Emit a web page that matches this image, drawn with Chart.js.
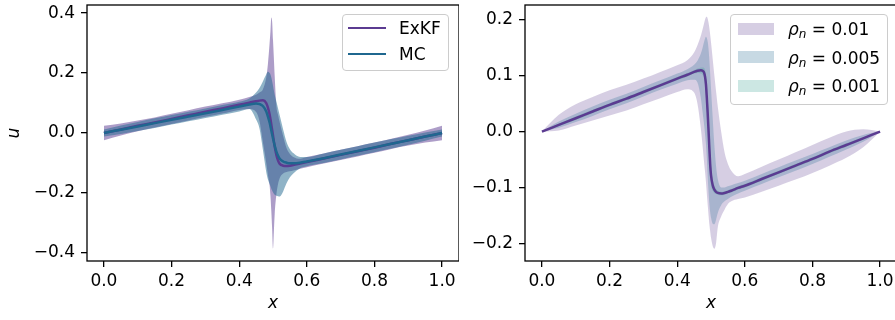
<!DOCTYPE html>
<html>
<head>
<meta charset="utf-8">
<script src="https://cdn.jsdelivr.net/npm/chart.js@4.4.1/dist/chart.umd.min.js"></script>
<style>
    body { margin: 0; background: #fff; font-family: "DejaVu Sans", sans-serif; }
    #wrap { position: relative; width: 895px; height: 320px; overflow: hidden; }
    #wrap canvas { position: absolute; top: 0; }
    #leftChart { left: 0; }
    #rightChart { left: 460px; }
    .legend { position: absolute; box-sizing: border-box; background: rgba(255,255,255,0.8);
              border: 1px solid #cccccc; border-radius: 4px; }
    .legend .label { position: absolute; font-size: 17px; line-height: 20px; color: #000; white-space: nowrap; }
    .legend .swatch { position: absolute; }
    .legend sub { font-size: 12px; vertical-align: -3px; font-style: italic; }
</style>
</head>
<body>
<div id="wrap">
    <canvas id="leftChart" width="459" height="320"></canvas>
    <canvas id="rightChart" width="437" height="320"></canvas>
    <div class="legend" id="legendLeft" style="left:342px; top:14px; width:107px; height:57px;"></div>
    <div class="legend" id="legendRight" style="left:730px; top:14px; width:158px; height:91px;"></div>
</div>
<script>
// ---- left panel: ExKF vs Monte Carlo, mean and spread ----
const xLeft = [0, 0.05, 0.1, 0.15, 0.2, 0.25, 0.3, 0.35, 0.4,
    0.43, 0.45, 0.46, 0.47, 0.48,
    0.485, 0.49, 0.4925, 0.495, 0.4975, 0.5, 0.5025, 0.505,
    0.51, 0.515, 0.52, 0.53, 0.54, 0.55, 0.56, 0.58, 0.6,
    0.65, 0.7, 0.75, 0.8, 0.85, 0.9, 0.95, 1.0];

const exkfMean = [0, 0.012, 0.024, 0.035, 0.047, 0.059, 0.071, 0.082, 0.094,
    0.101, 0.106, 0.108, 0.109, 0.100,
    0.085, 0.062, 0.046, 0.028, 0.010, -0.008, -0.027, -0.045,
    -0.073, -0.092, -0.103, -0.109, -0.110, -0.109, -0.107, -0.102, -0.097,
    -0.085, -0.073, -0.061, -0.049, -0.036, -0.024, -0.012, 0];

const mcMean = [0, 0.011, 0.022, 0.033, 0.044, 0.055, 0.066, 0.077, 0.088,
    0.095, 0.098, 0.097, 0.090, 0.072,
    0.055, 0.035, 0.022, 0.008, -0.005, -0.018, -0.030, -0.042,
    -0.062, -0.076, -0.086, -0.095, -0.099, -0.101, -0.101, -0.099, -0.095,
    -0.084, -0.072, -0.060, -0.048, -0.036, -0.024, -0.012, 0];

const exkfUpper = [0.024, 0.032, 0.042, 0.052, 0.064, 0.076, 0.088, 0.099, 0.111,
    0.120, 0.128, 0.135, 0.145, 0.185,
    0.230, 0.300, 0.340, 0.385, 0.370, 0.310, 0.250, 0.190,
    0.090, 0.060, 0.035, -0.010, -0.050, -0.070, -0.080, -0.086, -0.080,
    -0.068, -0.056, -0.044, -0.032, -0.019, -0.006, 0.008, 0.024];

const exkfLower = [-0.024, -0.008, 0.006, 0.018, 0.030, 0.042, 0.054, 0.065, 0.077,
    0.080, 0.070, 0.040, -0.030, -0.100,
    -0.140, -0.175, -0.210, -0.260, -0.320, -0.385, -0.330, -0.270,
    -0.205, -0.170, -0.150, -0.135, -0.130, -0.128, -0.125, -0.119, -0.114,
    -0.102, -0.090, -0.078, -0.066, -0.053, -0.042, -0.032, -0.024];

const mcUpper = [0.012, 0.025, 0.037, 0.049, 0.060, 0.071, 0.082, 0.093, 0.104,
    0.115, 0.135, 0.150, 0.172, 0.195,
    0.204, 0.200, 0.195, 0.185, 0.172, 0.158, 0.142, 0.128,
    0.105, 0.082, 0.058, 0.012, -0.030, -0.054, -0.067, -0.080, -0.080,
    -0.068, -0.056, -0.044, -0.032, -0.020, -0.009, 0.002, 0.012];

const mcLower = [-0.012, -0.003, 0.007, 0.017, 0.028, 0.039, 0.050, 0.061, 0.072,
    0.080, 0.045, 0.015, -0.055, -0.130,
    -0.155, -0.170, -0.178, -0.186, -0.192, -0.198, -0.203, -0.206,
    -0.209, -0.211, -0.212, -0.195, -0.168, -0.148, -0.135, -0.118, -0.111,
    -0.100, -0.088, -0.076, -0.064, -0.052, -0.039, -0.026, -0.012];

// ---- right panel: ExKF mean with bands for three noise levels ----
const xRight = [0, 0.05, 0.1, 0.15, 0.2, 0.25, 0.3, 0.35, 0.4,
    0.43, 0.45, 0.46, 0.47, 0.475, 0.48,
    0.4825, 0.485, 0.4875, 0.49, 0.4925, 0.495, 0.4975, 0.5,
    0.505, 0.51, 0.515, 0.52, 0.53, 0.54, 0.55, 0.56, 0.58, 0.6,
    0.65, 0.7, 0.75, 0.8, 0.85, 0.9, 0.95, 1.0];

const meanRight = [0, 0.012, 0.024, 0.036, 0.048, 0.059, 0.071, 0.083, 0.095,
    0.102, 0.107, 0.109, 0.110, 0.109, 0.105,
    0.098, 0.085, 0.062, 0.035, 0.005, -0.028, -0.058, -0.078,
    -0.096, -0.104, -0.108, -0.110, -0.111, -0.110, -0.108, -0.106, -0.101, -0.097,
    -0.085, -0.073, -0.061, -0.049, -0.036, -0.024, -0.012, 0];

const upper01 = [0, 0.030, 0.049, 0.062, 0.074, 0.084, 0.095, 0.107, 0.119,
    0.128, 0.142, 0.155, 0.172, 0.183, 0.195,
    0.201, 0.205, 0.206, 0.203, 0.196, 0.186, 0.174, 0.160,
    0.130, 0.100, 0.072, 0.045, 0.000, -0.037, -0.058, -0.070, -0.080, -0.076,
    -0.063, -0.050, -0.037, -0.024, -0.011, 0.000, 0.004, 0];

const lower01 = [0, 0.002, 0.011, 0.020, 0.029, 0.038, 0.049, 0.060, 0.071,
    0.076, 0.070, 0.050, 0.005, -0.025, -0.058,
    -0.073, -0.090, -0.110, -0.130, -0.148, -0.165, -0.178, -0.190,
    -0.205, -0.210, -0.200, -0.172, -0.152, -0.140, -0.130, -0.125, -0.121, -0.118,
    -0.108, -0.097, -0.086, -0.074, -0.061, -0.047, -0.028, 0];

const upper005 = [0, 0.018, 0.032, 0.045, 0.057, 0.068, 0.080, 0.092, 0.104,
    0.112, 0.120, 0.127, 0.140, 0.150, 0.162,
    0.167, 0.170, 0.168, 0.162, 0.150, 0.130, 0.105, 0.078,
    0.025, -0.025, -0.062, -0.085, -0.100, -0.100, -0.098, -0.096, -0.092, -0.088,
    -0.076, -0.064, -0.052, -0.040, -0.028, -0.016, -0.006, 0];

const lower005 = [0, 0.007, 0.017, 0.028, 0.040, 0.051, 0.063, 0.075, 0.086,
    0.092, 0.093, 0.088, 0.060, 0.035, 0.010,
    -0.005, -0.022, -0.045, -0.078, -0.105, -0.128, -0.144, -0.154,
    -0.165, -0.166, -0.158, -0.146, -0.132, -0.125, -0.121, -0.117, -0.111, -0.106,
    -0.094, -0.082, -0.070, -0.058, -0.045, -0.032, -0.018, 0];

const upper001 = [0, 0.014, 0.027, 0.039, 0.051, 0.062, 0.074, 0.086, 0.098,
    0.105, 0.110, 0.113, 0.115, 0.115, 0.114,
    0.110, 0.102, 0.085, 0.062, 0.035, 0.002, -0.030, -0.058,
    -0.086, -0.098, -0.103, -0.106, -0.108, -0.107, -0.105, -0.103, -0.098, -0.094,
    -0.082, -0.070, -0.058, -0.046, -0.033, -0.021, -0.010, 0];

const lower001 = [0, 0.010, 0.021, 0.033, 0.045, 0.056, 0.068, 0.080, 0.092,
    0.099, 0.104, 0.105, 0.104, 0.102, 0.096,
    0.085, 0.065, 0.038, 0.008, -0.025, -0.058, -0.082, -0.096,
    -0.106, -0.110, -0.112, -0.113, -0.114, -0.113, -0.111, -0.109, -0.104, -0.100,
    -0.088, -0.076, -0.064, -0.052, -0.039, -0.027, -0.014, 0];

// tick labels and legend entries
const xTicks = [0, 0.2, 0.4, 0.6, 0.8, 1.0];
const uTicksLeft = [-0.4, -0.2, 0, 0.2, 0.4];
const uTicksRight = [-0.2, -0.1, 0, 0.1, 0.2];
const methodNames = ['ExKF', 'MC'];
const noiseLevels = ['0.01', '0.005', '0.001'];

const FONT = 'DejaVu Sans';
const PURPLE = [91, 59, 145];
const BLUE = [31, 103, 143];
const TEAL = [53, 160, 143];

function rgba(c, a) {
    return `rgba(${c[0]},${c[1]},${c[2]},${a})`;
}

function pts(xs, ys) {
    return xs.map((x, i) => ({ x: x, y: ys[i] }));
}

// tick text with a proper minus sign
function fmt(v) {
    return (v < 0 ? '\u2212' : '') + Math.abs(v).toFixed(1);
}

// upper edge fills down to the lower edge (the next dataset)
function band(xs, upper, lower, color, alpha, order) {
    return [
        { data: pts(xs, upper), fill: '+1', backgroundColor: rgba(color, alpha),
          borderColor: 'transparent', borderWidth: 0, order: order },
        { data: pts(xs, lower), fill: false, borderColor: 'transparent', borderWidth: 0, order: order }
    ];
}

function line(xs, ys, color, order) {
    return { data: pts(xs, ys), fill: false, borderColor: rgba(color, 1), borderWidth: 2.5, order: order };
}

// box around the plot area, drawn over the data like matplotlib spines
const framePlugin = {
    id: 'frame',
    afterDatasetsDraw(chart) {
        const a = chart.chartArea;
        const ctx = chart.ctx;
        ctx.save();
        ctx.strokeStyle = '#000';
        ctx.lineWidth = 1.3;
        ctx.strokeRect(a.left, a.top, a.right - a.left, a.bottom - a.top);
        ctx.restore();
    }
};

function makeScales(yMin, yMax, yTicks, yWidth, yTitle) {
    const tickFont = { family: FONT, size: 17 };
    const titleFont = { family: FONT, size: 17, style: 'italic' };
    return {
        x: {
            type: 'linear', min: -0.05, max: 1.05,
            afterBuildTicks: s => { s.ticks = xTicks.map(v => ({ value: v })); },
            afterFit: s => { s.height = 59; s.paddingLeft = 0; s.paddingRight = 0; },
            ticks: { font: tickFont, color: '#000', padding: 4, maxRotation: 0, autoSkip: false, callback: fmt },
            grid: { drawOnChartArea: false, color: '#000', lineWidth: 1.3, tickLength: 6 },
            border: { display: false },
            title: { display: true, text: 'x', font: titleFont, color: '#000', padding: { top: 0, bottom: 6 } }
        },
        y: {
            type: 'linear', min: yMin, max: yMax,
            afterBuildTicks: s => { s.ticks = yTicks.map(v => ({ value: v })); },
            afterFit: s => { s.width = yWidth; s.paddingTop = 0; s.paddingBottom = 0; },
            ticks: { font: tickFont, color: '#000', padding: 6, autoSkip: false, callback: fmt },
            grid: { drawOnChartArea: false, color: '#000', lineWidth: 1.3, tickLength: 6 },
            border: { display: false },
            title: { display: !!yTitle, text: yTitle || '', font: titleFont, color: '#000', padding: { top: 4, bottom: 0 } }
        }
    };
}

const baseOptions = {
    responsive: false,
    animation: false,
    events: [],
    devicePixelRatio: 1,
    layout: { padding: { top: 5, left: 0, right: 0, bottom: 0 } },
    elements: {
        point: { radius: 0 },
        line: { cubicInterpolationMode: 'monotone' }
    },
    plugins: { legend: { display: false }, tooltip: { enabled: false } }
};

new Chart(document.getElementById('leftChart'), {
    type: 'line',
    data: {
        datasets: [
            ...band(xLeft, exkfUpper, exkfLower, PURPLE, 0.5, 4),
            ...band(xLeft, mcUpper, mcLower, BLUE, 0.5, 3),
            line(xLeft, exkfMean, PURPLE, 2),
            line(xLeft, mcMean, BLUE, 1)
        ]
    },
    options: { ...baseOptions, scales: makeScales(-0.427, 0.427, uTicksLeft, 87, 'u') },
    plugins: [framePlugin]
});

new Chart(document.getElementById('rightChart'), {
    type: 'line',
    data: {
        datasets: [
            ...band(xRight, upper01, lower01, PURPLE, 0.25, 5),
            ...band(xRight, upper005, lower005, BLUE, 0.25, 4),
            ...band(xRight, upper001, lower001, TEAL, 0.25, 3),
            line(xRight, meanRight, PURPLE, 1)
        ]
    },
    options: { ...baseOptions, scales: makeScales(-0.232, 0.227, uTicksRight, 65, null) },
    plugins: [framePlugin]
});

// legends (positions relative to the legend box)
const legendLeft = document.getElementById('legendLeft');
[PURPLE, BLUE].forEach((c, i) => {
    const cy = 13 + i * 26;
    legendLeft.innerHTML +=
        `<div class="swatch" style="left:5px; top:${cy - 1.25}px; width:38px; height:2.5px; background:${rgba(c, 1)}"></div>` +
        `<div class="label" style="left:56px; top:${cy - 9.7}px">${methodNames[i]}</div>`;
});

const legendRight = document.getElementById('legendRight');
[PURPLE, BLUE, TEAL].forEach((c, i) => {
    const cy = 13.7 + i * 28.7;
    legendRight.innerHTML +=
        `<div class="swatch" style="left:7px; top:${cy - 6}px; width:36px; height:12px; background:${rgba(c, 0.25)}"></div>` +
        `<div class="label" style="left:57px; top:${cy - 9.9}px"><i>ρ</i><sub>n</sub> = ${noiseLevels[i]}</div>`;
});
</script>
</body>
</html>
